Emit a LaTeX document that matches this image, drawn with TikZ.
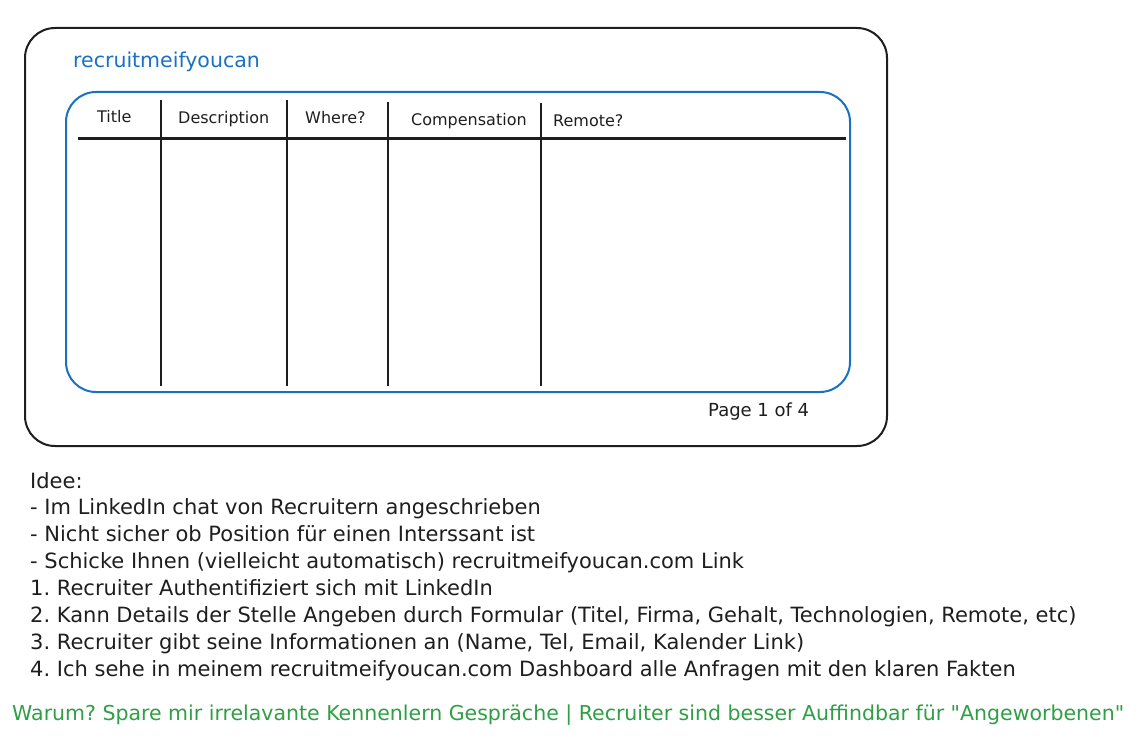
\documentclass[tikz,border=0pt]{standalone}
\usepackage{fontspec}
\setmainfont{DejaVu Sans}
\usepackage{tikz}
\usetikzlibrary{positioning}
\definecolor{ink}{HTML}{1E1E1E}
\definecolor{brand}{HTML}{1971C2}
\definecolor{why}{HTML}{2F9E44}
\frenchspacing

\begin{document}
\begin{tikzpicture}[x=1pt,y=-1pt,
  colhead/.style={anchor=base west,inner sep=0pt,text=ink,font=\fontsize{16}{18}\selectfont},
  noteline/.style={anchor=base west,inner sep=0pt,text=ink,font=\fontsize{21}{24}\selectfont}]
\useasboundingbox (0,0) rectangle (1143,746);
% browser window
\draw[ink,line width=2pt,rounded corners=30pt] (25,28) rectangle (887,446);
\node[anchor=base west,inner sep=0pt,text=brand,font=\fontsize{20.5}{24}\selectfont] (brandname) at (73,68) {recruitmeifyoucan};
\draw[brand,line width=2pt,rounded corners=30pt] (66,92) rectangle (850,392);
% table
\draw[ink,line width=3pt] (78,139) -- (846,139);
\foreach \cx/\top in {161/100,287/100,388/102,541/103}
  \draw[ink,line width=2.5pt] (\cx,\top) -- (\cx,386);
\node[colhead] (hTitle) at (97,123) {Title};
\node[colhead] (hDesc) at (178,124) {Description};
\node[colhead] (hWhere) at (305,124) {Where?};
\node[colhead] (hComp) at (411,126) {Compensation};
\node[colhead] (hRemote) at (553,127) {Remote?};
\node[colhead,font=\fontsize{18}{20}\selectfont] (pager) at (708,416) {Page 1 of 4};
% notes
\foreach \txt [count=\i from 0] in {
  {Idee:},
  {- Im LinkedIn chat von Recruitern angeschrieben},
  {- Nicht sicher ob Position für einen Interssant ist},
  {- Schicke Ihnen (vielleicht automatisch) recruitmeifyoucan.com Link},
  {1. Recruiter Authentifiziert sich mit LinkedIn},
  {2. Kann Details der Stelle Angeben durch Formular (Titel, Firma, Gehalt, Technologien, Remote, etc)},
  {3. Recruiter gibt seine Informationen an (Name, Tel, Email, Kalender Link)},
  {4. Ich sehe in meinem recruitmeifyoucan.com Dashboard alle Anfragen mit den klaren Fakten}}
  \node[noteline] (note\i) at (30,{488+26.9*\i}) {\txt};
\node[noteline,text=why,font=\fontsize{20.5}{24}\selectfont] (why) at (12,720) {Warum? Spare mir irrelavante Kennenlern Gespräche | Recruiter sind besser Auffindbar für \textquotedbl Angeworbenen\textquotedbl};
\end{tikzpicture}
\end{document}
